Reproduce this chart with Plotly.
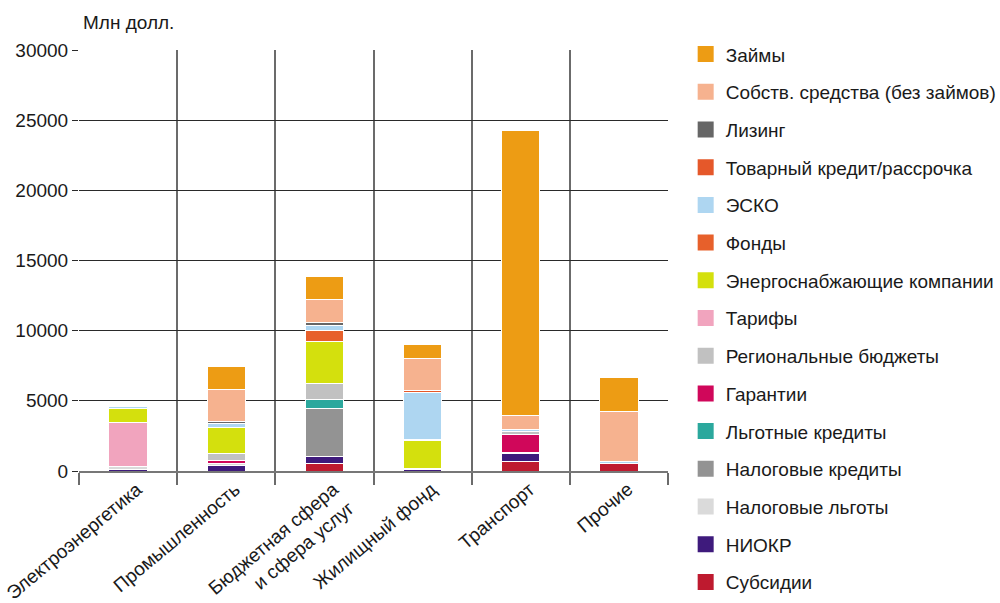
import plotly.graph_objects as go

# Sectors on the x axis
categories = [
    "Электроэнергетика",
    "Промышленность",
    "Бюджетная сфера<br>и сфера услуг",
    "Жилищный фонд",
    "Транспорт",
    "Прочие",
]

# Financing sources, млн долл., stacked bottom to top
subsidii = [0, 0, 500, 0, 650, 500]
niokr = [100, 420, 500, 80, 600, 60]
nalog_lgoty = [250, 150, 0, 100, 80, 0]
nalog_kredity = [0, 0, 3440, 0, 0, 0]
lgotnye_kredity = [0, 0, 650, 0, 0, 0]
garantii = [0, 180, 0, 0, 1280, 0]
reg_budzhety = [0, 480, 1120, 0, 180, 0]
tarify = [3100, 0, 0, 0, 0, 0]
energo = [1000, 1850, 3050, 1960, 0, 0]
fondy = [0, 0, 750, 100, 0, 0]
esko = [120, 280, 390, 3330, 140, 100]
tovarny_kredit = [0, 0, 0, 140, 0, 0]
lizing = [0, 150, 200, 0, 0, 0]
sobstv = [0, 2300, 1650, 2300, 1010, 3600]
zaymy = [0, 1650, 1600, 975, 20340, 2380]

series = [
    ("Субсидии", subsidii, "#BE1A2F"),
    ("НИОКР", niokr, "#3E1A7C"),
    ("Налоговые льготы", nalog_lgoty, "#DADADA"),
    ("Налоговые кредиты", nalog_kredity, "#939393"),
    ("Льготные кредиты", lgotnye_kredity, "#2BA89D"),
    ("Гарантии", garantii, "#D0075A"),
    ("Региональные бюджеты", reg_budzhety, "#C1C1C1"),
    ("Тарифы", tarify, "#F1A4BE"),
    ("Энергоснабжающие компании", energo, "#D4E00D"),
    ("Фонды", fondy, "#E7602B"),
    ("ЭСКО", esko, "#AED6F1"),
    ("Товарный кредит/рассрочка", tovarny_kredit, "#E5582A"),
    ("Лизинг", lizing, "#666666"),
    ("Собств. средства (без займов)", sobstv, "#F6B28F"),
    ("Займы", zaymy, "#ED9C14"),
]

FONT = "Liberation Sans, Arial, Helvetica, sans-serif"
FS = 19

fig = go.Figure()
# stacked bars, bottom series first
for name, vals, color in series:
    fig.add_trace(go.Bar(
        x=categories, y=vals, name=name, showlegend=False,
        marker=dict(color=color, line=dict(color="white", width=1)),
    ))

# legend keys as larger square markers, top of the stack listed first
for name, vals, color in reversed(series):
    fig.add_trace(go.Scatter(
        x=[None], y=[None], mode="markers", name=name, legendgroup="key_" + name,
        marker=dict(symbol="square", size=16, color=color),
        showlegend=True, hoverinfo="skip",
    ))

fig.update_layout(
    width=1000, height=603,
    margin=dict(l=79, r=332, t=50, b=132, autoexpand=False),
    paper_bgcolor="white", plot_bgcolor="white",
    barmode="stack", bargap=0.61,
    font=dict(family=FONT, size=FS, color="#1a1a1a"),
    showlegend=True,
    legend=dict(
        x=1.030, xanchor="left", y=1.035, yanchor="top",
        traceorder="grouped", tracegroupgap=10,
        font=dict(family=FONT, size=FS, color="#1a1a1a"),
        bgcolor="rgba(0,0,0,0)", maxheight=603,
    ),
    xaxis=dict(
        type="category", tickson="boundaries", tickangle=-40,
        showgrid=True, gridcolor="#6b6b6b", gridwidth=1.5,
        ticks="outside", ticklen=12, tickcolor="#6b6b6b", tickwidth=1.5,
        showline=True, linecolor="#777777", linewidth=2,
        tickfont=dict(family=FONT, size=FS, color="#1a1a1a"),
        automargin=False, ticklabelshift=9, ticklabelstandoff=-2,
    ),
    yaxis=dict(
        range=[0, 30000], dtick=5000, tickformat="d",
        showgrid=True, gridcolor="#2a2a2a", gridwidth=1.2,
        ticks="outside", ticklen=6, tickcolor="#2a2a2a", tickwidth=1.2,
        zeroline=False, showline=False, automargin=False,
        tickfont=dict(family=FONT, size=FS, color="#1a1a1a"),
    ),
    annotations=[dict(
        text="Млн долл.", xref="paper", yref="paper", x=0.0, y=1.0,
        xanchor="left", yanchor="bottom", xshift=2, yshift=15,
        showarrow=False, font=dict(family=FONT, size=FS, color="#1a1a1a"),
    )],
)

fig.write_html("out.html")
